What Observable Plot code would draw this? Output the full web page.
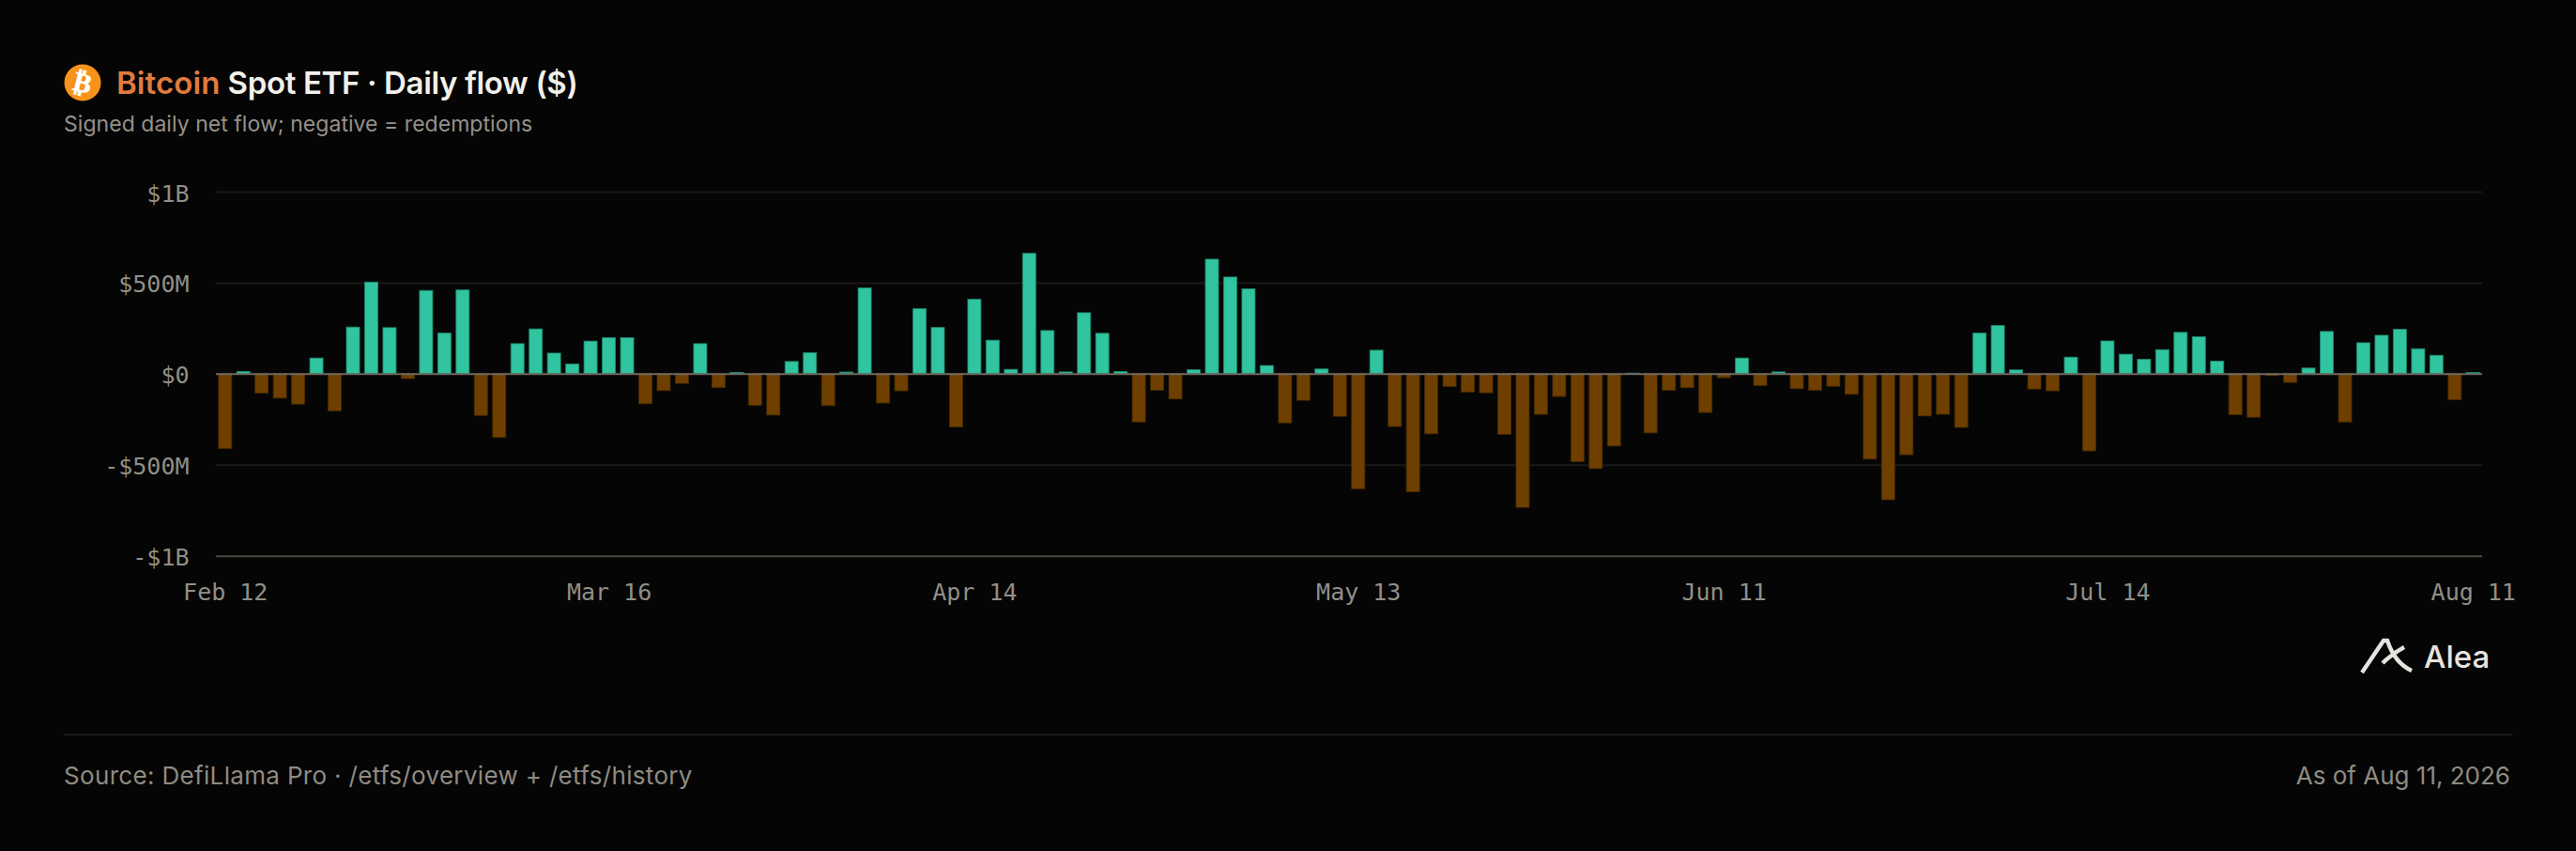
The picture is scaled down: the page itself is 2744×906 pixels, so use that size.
<!DOCTYPE html>
<html>
<head>
<meta charset="utf-8">
<script src="https://cdn.jsdelivr.net/npm/d3@7"></script>
<script src="https://cdn.jsdelivr.net/npm/@observablehq/plot@0.6"></script>
<style>
html,body{margin:0;padding:0;background:#050505;width:2744px;height:906px;overflow:hidden}
.t{position:absolute;white-space:nowrap;font-family:Inter,"Noto Sans",sans-serif}
#chart{position:absolute;left:0;top:170px}
#chart svg{display:block;background:transparent}
</style>
</head>
<body>
<svg class="t" style="left:68px;top:68px" width="40" height="40" viewBox="0 0 40 40"><circle cx="20" cy="20" r="19.5" fill="#f7931a"/><text x="20" y="30" text-anchor="middle" font-family="DejaVu Sans" font-weight="700" font-size="29" fill="#fff" stroke="#fff" stroke-width="0.5" transform="rotate(14 20 20)">₿</text></svg>
<div class="t" style="left:124px;top:68px;font-size:33px;font-weight:600;letter-spacing:-0.35px;line-height:40px;color:#f2f0ea"><span style="color:#e07b3f;letter-spacing:0.1px">Bitcoin</span> Spot ETF · Daily flow ($)</div>
<div class="t" style="left:68px;top:117px;font-size:23px;letter-spacing:0.04px;line-height:30px;color:#95918a">Signed daily net flow; negative = redemptions</div>
<div id="chart"></div>
<svg class="t" style="left:2514px;top:678px" width="58" height="40" viewBox="0 0 58 40"><path d="M2 38 L25 4 L29 4 Q37 28 55 36 M24 28 Q34 18 47 11" fill="none" stroke="#e6e4df" stroke-width="4.4"/></svg>
<div class="t" style="left:2582px;top:680px;font-size:33px;font-weight:500;line-height:38px;color:#e6e4df">Alea</div>
<div class="t" style="left:68px;top:781px;width:2608px;height:2px;background:#1c1b1a"></div>
<div class="t" style="left:68px;top:809px;font-size:26px;letter-spacing:0.33px;line-height:34px;color:#8f8b82">Source: DefiLlama Pro · /etfs/overview + /etfs/history</div>
<div class="t" style="right:70px;top:809px;font-size:26px;line-height:34px;color:#8f8b82">As of Aug 11, 2026</div>
<script>
const dates = [
"2026-02-12","2026-02-13","2026-02-17","2026-02-18","2026-02-19","2026-02-20",
"2026-02-23","2026-02-24","2026-02-25","2026-02-26","2026-02-27",
"2026-03-02","2026-03-03","2026-03-04","2026-03-05","2026-03-06",
"2026-03-09","2026-03-10","2026-03-11","2026-03-12","2026-03-13",
"2026-03-16","2026-03-17","2026-03-18","2026-03-19","2026-03-20",
"2026-03-23","2026-03-24","2026-03-25","2026-03-26","2026-03-27",
"2026-03-30","2026-03-31","2026-04-01","2026-04-02",
"2026-04-06","2026-04-07","2026-04-08","2026-04-09","2026-04-10",
"2026-04-13","2026-04-14","2026-04-15","2026-04-16","2026-04-17",
"2026-04-20","2026-04-21","2026-04-22","2026-04-23","2026-04-24",
"2026-04-27","2026-04-28","2026-04-29","2026-04-30","2026-05-01",
"2026-05-04","2026-05-05","2026-05-06","2026-05-07","2026-05-08",
"2026-05-11","2026-05-12","2026-05-13","2026-05-14","2026-05-15",
"2026-05-18","2026-05-19","2026-05-20","2026-05-21","2026-05-22",
"2026-05-26","2026-05-27","2026-05-28","2026-05-29",
"2026-06-01","2026-06-02","2026-06-03","2026-06-04","2026-06-05",
"2026-06-08","2026-06-09","2026-06-10","2026-06-11","2026-06-12",
"2026-06-15","2026-06-16","2026-06-17","2026-06-18",
"2026-06-22","2026-06-23","2026-06-24","2026-06-25","2026-06-26",
"2026-06-29","2026-06-30","2026-07-01","2026-07-02",
"2026-07-06","2026-07-07","2026-07-08","2026-07-09","2026-07-10",
"2026-07-13","2026-07-14","2026-07-15","2026-07-16","2026-07-17",
"2026-07-20","2026-07-21","2026-07-22","2026-07-23","2026-07-24",
"2026-07-27","2026-07-28","2026-07-29","2026-07-30","2026-07-31",
"2026-08-03","2026-08-04","2026-08-05","2026-08-06","2026-08-07",
"2026-08-10","2026-08-11"];
const flows = [
-411,12,-107,-134,-167,86,-204,256,503,253,-27,457,223,460,-229,-350,
165,246,113,53,179,198,198,-165,-93,-53,165,-76,7,-174,-227,
67,115,-175,9,471,-161,-94,357,254,-292,409,184,24,661,237,10,335,222,12,
-265,-91,-139,22,629,531,466,45,-270,-146,26,-234,-632,129,
-290,-648,-330,-70,-101,-105,-333,-734,-223,-125,-483,-521,-397,3,-325,-91,-77,-213,-22,86,
-65,10,-82,-91,-69,-113,-469,-692,-445,-232,-223,-295,
223,265,21,-84,-94,91,-424,180,107,79,132,227,203,69,-225,-239,-10,-48,31,232,-265,
170,211,244,137,101,-143,7];
const tickDates = ["2026-02-12","2026-03-16","2026-04-14","2026-05-13","2026-06-11","2026-07-14","2026-08-11"];
const tickLabels = ["Feb 12","Mar 16","Apr 14","May 13","Jun 11","Jul 14","Aug 11"];
const yTicks = [1000,500,0,-500,-1000];
const yLabels = ["$1B","$500M","$0","-$500M","-$1B"];
const gridValues = [1000,500,-500];
const rows = dates.map((d,i)=>({date:d,flow:flows[i]}));
const mono = '"DejaVu Sans Mono",monospace';
const plot = Plot.plot({
  width:2744,height:490,marginTop:34,marginBottom:68.3,marginLeft:230,marginRight:100,
  style:{background:"transparent",color:"#928f87",fontFamily:mono,fontSize:"25px"},
  x:{type:"band",domain:dates,paddingInner:0.28,paddingOuter:0.14,label:null},
  y:{domain:[-1000,1000],label:null},
  marks:[
    Plot.ruleY(gridValues,{stroke:"#1a1918",strokeWidth:2}),
    Plot.ruleY([-1000],{stroke:"#4d4841",strokeWidth:2}),
    Plot.barY(rows,{x:"date",y:"flow",fill:d=>d.flow>=0?"#30c4a0":"#6f3f00",stroke:d=>d.flow>=0?"#1f8a70":"#4a2a00",strokeWidth:1,strokeOpacity:0.8}),
    Plot.ruleY([0],{stroke:"#6f6a62",strokeWidth:2}),
    Plot.axisY(yTicks,{anchor:"left",tickSize:0,tickPadding:29,dy:2,label:null,tickFormat:v=>yLabels[yTicks.indexOf(v)],fill:"#928f87"}),
    Plot.axisX(tickDates,{anchor:"bottom",tickSize:0,tickPadding:29.5,label:null,tickFormat:d=>tickLabels[tickDates.indexOf(d)],fill:"#928f87"})
  ]
});
document.getElementById("chart").appendChild(plot);
</script>
</body>
</html>
